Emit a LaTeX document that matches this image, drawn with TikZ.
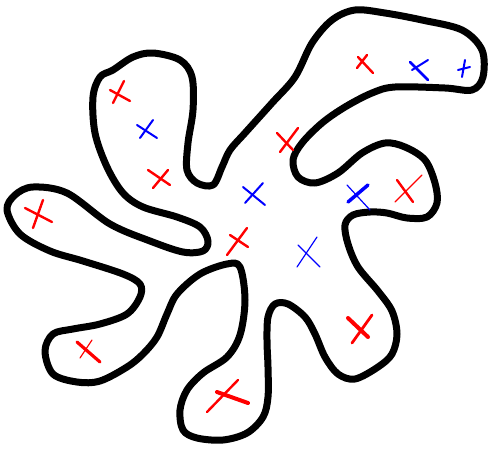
\documentclass[tikz,border=0pt]{standalone}
\begin{document}
\begin{tikzpicture}[x=1pt,y=-1pt,
  outline/.style={line width=7pt, line join=round},
  rc/.style={draw=red, line cap=round, line width=2.4pt},
  bc/.style={draw=blue, line cap=round, line width=2pt},
  thin/.style={line width=1.2pt},
  thick/.style={line width=4pt}]
\useasboundingbox (0,0) rectangle (490,448);
\draw[outline] plot[smooth cycle, tension=0.55] coordinates {
(113,70) (133,57) (153,53) (180,60) (192,77) (193,110) (188,143) (187,170) (197,183) (213,185) (222,167) (230,150) (245,133) (272,103) (295,77) (312,43) (332,20) (355,10) (385,13) (422,20) (462,30) (482,50) (483,77) (472,90) (445,88) (395,87) (372,93) (345,107) (322,123) (302,143) (293,160) (298,177) (315,183) (338,173) (362,153) (385,143) (405,147) (425,160) (435,183) (437,203) (427,217) (407,218) (387,213) (370,212) (353,215) (345,225) (348,244) (358,267) (378,291) (392,311) (397,334) (392,354) (378,367) (355,379) (338,374) (325,357) (315,334) (305,317) (288,304) (275,304) (268,317) (267,341) (268,367) (268,397) (263,417) (247,433) (223,440) (197,438) (183,430) (180,410) (187,390) (203,373) (227,357) (240,335) (245,300) (240,267) (227,264) (200,274) (177,294) (167,314) (157,337) (143,354) (127,367) (100,381) (77,382) (53,374) (45,351) (53,334) (73,329) (100,324) (127,314) (140,297) (140,284) (123,274) (83,261) (50,251) (20,234) (7,210) (15,195) (33,187) (67,193) (110,224) (150,241) (183,252) (203,251) (208,241) (200,227) (177,217) (143,207) (123,193) (107,167) (95,133) (93,97) (100,77)};
% red crosses
\draw[rc] (110,90) -- (130,101); \draw[rc] (124,81) -- (113,103);
\draw[rc] (148,170) -- (170,185); \draw[rc] (168,170) -- (153,188);
\draw[rc] (277,133) -- (293,150); \draw[rc] (298,128) -- (280,152);
\draw[rc] (230,235) -- (248,247); \draw[rc] (247,228) -- (227,255);
\draw[rc] (358,57) -- (373,73); \draw[rc] (367,55) -- (357,68);
\draw[rc] (397,180) -- (413,202); \draw[rc,thin] (422,175) -- (395,202);
\draw[rc] (25,208) -- (52,222); \draw[rc] (43,200) -- (33,228);
\draw[rc,line width=3.2pt] (77,342) -- (100,362); \draw[rc,thin] (92,340) -- (80,358);
\draw[rc,thick] (217,392) -- (248,403); \draw[rc] (238,380) -- (207,412);
\draw[rc,thick] (348,318) -- (368,337); \draw[rc,line width=2.8pt] (372,315) -- (352,343);
% blue crosses
\draw[bc] (137,125) -- (157,138); \draw[bc] (153,120) -- (140,138);
\draw[bc] (243,187) -- (265,205); \draw[bc] (263,183) -- (245,203);
\draw[bc,thin] (298,245) -- (320,267); \draw[bc,thin] (317,237) -- (297,267);
\draw[bc,line width=2.6pt] (410,62) -- (428,80); \draw[bc] (428,60) -- (412,70);
\draw[bc] (458,70) -- (470,67); \draw[bc] (465,60) -- (462,77);
\draw[bc,thin] (347,185) -- (370,210); \draw[bc,line width=3.5pt] (368,185) -- (348,202);
\end{tikzpicture}
\end{document}
